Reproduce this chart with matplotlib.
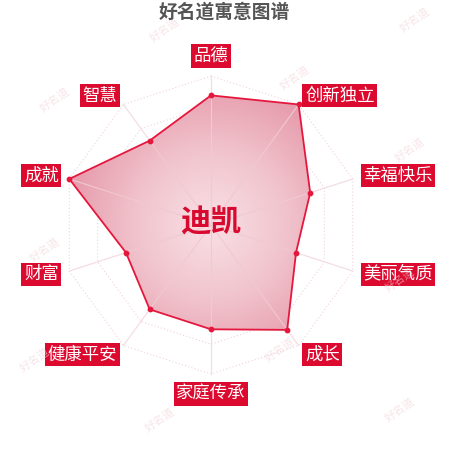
import numpy as np
import matplotlib.pyplot as plt
from matplotlib.colors import LinearSegmentedColormap
from matplotlib.patches import Polygon

plt.rcParams['font.family'] = ['Noto Sans CJK SC', 'DejaVu Sans']

# 数据
labels = ['品德', '创新独立', '幸福快乐', '美丽气质', '成长',
          '家庭传承', '健康平安', '财富', '成就', '智慧']
values = [87, 100, 70, 60, 87, 70, 70, 60, 100, 70]
max_val = 100
name = '迪凯'
title = '好名道寓意图谱'

red = '#dc0a2f'
line_red = '#e5173d'

fig = plt.figure(figsize=(4.5, 4.5), dpi=100)
ax = fig.add_axes([0, 0, 1, 1])
# 中心在像素 (211, 225)，半径 149 px
R = 149.0
ax.set_xlim(-211 / R, (450 - 211) / R)
ax.set_ylim(-(450 - 225) / R, 225 / R)
ax.set_aspect('equal')
ax.axis('off')

n = len(labels)
ang = np.arange(n) * 2 * np.pi / n  # 从顶部顺时针
sx, cy = np.sin(ang), np.cos(ang)

yy, xx = np.mgrid[-1:1:400j, -1:1:400j]
rr = np.sqrt(xx ** 2 + yy ** 2)

# 网格（虚线十边形）
for lv in [0.2, 0.4, 0.6, 0.8, 1.0]:
    gx = np.append(sx * lv, sx[0] * lv)
    gy = np.append(cy * lv, cy[0] * lv)
    ax.plot(gx, gy, color='#efd3d9', lw=0.8, ls=(0, (1, 2)), zorder=1)
for i in range(n):
    ax.plot([0, sx[i]], [0, cy[i]], color='#f4dde2', lw=0.9, zorder=1)

# 数据多边形
r = np.array(values) / max_val
px, py = sx * r, cy * r
poly = Polygon(np.column_stack([px, py]), closed=True, facecolor='none',
               edgecolor='none')
ax.add_patch(poly)
fill_cmap = LinearSegmentedColormap.from_list('fill', ['#f9e0e5', '#f1c4cd', '#e699aa'])
im = ax.imshow(rr, extent=[-1, 1, -1, 1], cmap=fill_cmap, vmin=0, vmax=1,
               origin='lower', zorder=2)
im.set_clip_path(poly)
for i in range(n):
    ax.plot([0, px[i]], [0, py[i]], color='#f0c9d1', lw=0.8, zorder=2.5)
ax.plot(np.append(px, px[0]), np.append(py, py[0]), color=line_red, lw=1.3, zorder=3)
ax.scatter(px, py, s=10, color=line_red, zorder=4)

# 轴标签
lr = 160 / R
for i, lab in enumerate(labels):
    x, y = sx[i] * lr, cy[i] * lr
    if abs(sx[i]) < 1e-6:
        ha = 'center'
        va = 'bottom' if cy[i] > 0 else 'top'
    else:
        ha = 'left' if sx[i] > 0 else 'right'
        va = 'center'
    ax.text(x, y, lab, ha=ha, va=va, fontsize=12.5, color='white',
            bbox=dict(boxstyle='square,pad=0.15', fc=red, ec='none'), zorder=5)

# 中心名字
ax.text(0, 0.02, name, ha='center', va='center', fontsize=22, fontweight='bold',
        color='#d80a30', zorder=5)

# 标题
fig.text(224 / 450, 1 - 12 / 450, title, ha='center', va='center', fontsize=13.5,
         fontweight='bold', color='#555555')

# 水印
wm_pos = [(165, 30), (415, 20), (295, 78), (55, 100), (410, 150), (45, 250),
          (400, 280), (280, 350), (35, 360), (160, 420), (400, 410)]
for wx, wy in wm_pos:
    fig.text(wx / 450, 1 - wy / 450, '好名道', ha='center', va='center', fontsize=8,
             color='#f2d3d8', rotation=35, alpha=0.6, zorder=0)

fig.savefig('out.png', dpi=100)
